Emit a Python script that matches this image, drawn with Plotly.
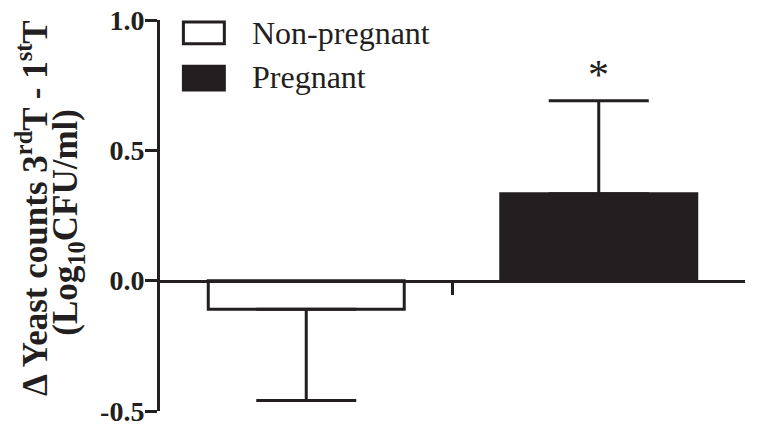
import plotly.graph_objects as go

categories = ["Non-pregnant", "Pregnant"]
means = [-0.11, 0.333]
err_plus = [0.0, 0.357]
err_minus = [0.35, 0.0]
fills = ["white", "#231f20"]
y_ticks = [-0.5, 0.0, 0.5, 1.0]
y_ticklabels = ["-0.5", "0.0", "0.5", "1.0"]
y_title_lines = ["Δ Yeast counts 3<sup>rd</sup>T - 1<sup>st</sup>T", "(Log<sub>10</sub>CFU/ml)"]
star_label = "*"

FONT = "Liberation Serif, Times New Roman, serif"
INK = "#231f20"
xpos = [0, 1]

fig = go.Figure()
for i, c in enumerate(categories):
    fig.add_trace(go.Bar(
        x=[xpos[i]], y=[means[i]], name=c, width=0.67,
        marker=dict(color=fills[i], line=dict(color=INK, width=3)),
        error_y=dict(type="data", symmetric=False, array=[err_plus[i]],
                     arrayminus=[err_minus[i]], color=INK, thickness=3, width=50),
        showlegend=False,
    ))

# significance star
fig.add_annotation(x=xpos[1], y=means[1] + err_plus[1], text=star_label, showarrow=False,
                   yshift=26, font=dict(family=FONT, size=42, color=INK))

# y-axis title as two rotated lines
for txt, px, py in [(y_title_lines[0], -0.219, 0.519), (y_title_lines[1], -0.158, 0.483)]:
    fig.add_annotation(xref="paper", yref="paper", x=px, y=py, text=txt, textangle=-90,
                       showarrow=False, xanchor="center", yanchor="middle",
                       font=dict(family=FONT, size=35, color=INK, weight="bold"))

# manual legend (paper coords)
leg_items = [(categories[0], fills[0], 0.939, 0.995, 0.967),
             (categories[1], fills[1], 0.821, 0.882, 0.854)]
for name, col, y0, y1, ty in leg_items:
    fig.add_shape(type="rect", xref="paper", yref="paper",
                  x0=0.040, x1=0.110, y0=y0, y1=y1,
                  fillcolor=col, line=dict(color=INK, width=3))
    fig.add_annotation(xref="paper", yref="paper", x=0.154, y=ty, text=name,
                       showarrow=False, xanchor="left", yanchor="middle",
                       font=dict(family=FONT, size=32, color=INK))

fig.update_layout(
    width=768, height=430,
    margin=dict(l=152, r=31, t=12, b=27),
    paper_bgcolor="white", plot_bgcolor="white",
    xaxis=dict(range=[-0.5, 1.5], anchor="free", position=1/3, automargin=False,
               showline=True, linecolor=INK, linewidth=3,
               tickvals=[0.5], ticktext=[""], ticks="outside", ticklen=12,
               tickwidth=3, tickcolor=INK, showgrid=False, zeroline=False),
    yaxis=dict(range=[-0.5, 1.0], tickvals=y_ticks, ticktext=y_ticklabels,
               automargin=False, ticklabeloverflow="allow", ticklabelstandoff=-5,
               showline=True, linecolor=INK, linewidth=3,
               ticks="outside", ticklen=12, tickwidth=3, tickcolor=INK,
               showgrid=False, zeroline=False,
               tickfont=dict(family=FONT, size=28, color=INK, weight="bold")),
)

fig.write_html("out.html")
